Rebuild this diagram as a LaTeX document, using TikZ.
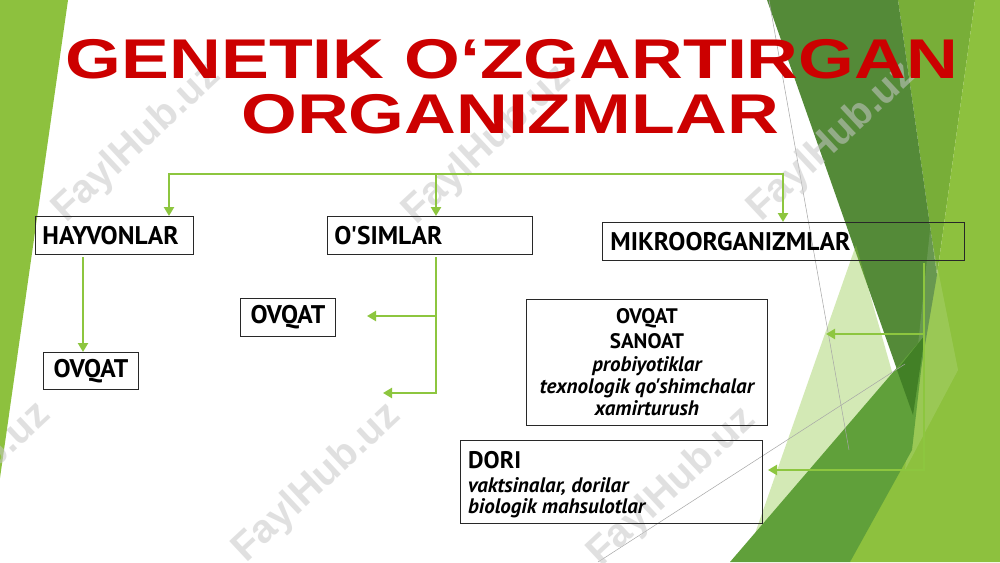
\documentclass[tikz,border=0pt]{standalone}
\usepackage{fontspec}
\newfontfamily\bodyfont{PT Sans}
\newfontfamily\titlefont{Liberation Sans}
\usetikzlibrary{arrows.meta,calc}
\definecolor{lime}{RGB}{141,193,62}
\definecolor{limeA}{RGB}{120,174,56}
\definecolor{darkg}{RGB}{84,138,56}
\definecolor{midg}{RGB}{96,160,58}
\definecolor{deepg}{RGB}{66,128,38}
\definecolor{arrowgreen}{RGB}{141,198,63}
\definecolor{titlered}{RGB}{204,0,0}
\definecolor{boxline}{RGB}{40,40,40}
\definecolor{wmgray}{RGB}{200,200,200}
\tikzset{
  box/.style={draw=boxline, line width=0.9pt, inner sep=0pt,
    font=\bodyfont\bfseries\fontsize{25.5}{30}\selectfont},
  upline/.style={anchor=base, inner sep=0pt,
    font=\bodyfont\bfseries\fontsize{21}{25}\selectfont},
  itline/.style={anchor=base, inner sep=0pt,
    font=\bodyfont\bfseries\itshape\fontsize{21}{25}\selectfont},
  gline/.style={draw=arrowgreen, line width=2.8pt, line join=miter},
  garrow/.style={gline, -{Triangle[length=9pt,width=10pt]}},
  wm/.style={text=wmgray, text opacity=0.55, rotate=43,
    font=\titlefont\bfseries\fontsize{40}{44}\selectfont},
  ttl/.style={text=titlered, anchor=base, inner sep=0pt},
  grayline/.style={draw=black!35, line width=0.5pt},
}
\begin{document}
\begin{tikzpicture}[x=1pt,y=-1pt]
\useasboundingbox (0,0) rectangle (1000,562);
\fill[white] (0,0) rectangle (1000,562);
% decoration left
\fill[lime] (0,0) -- (68,0) -- (0,478) -- cycle;
% decoration right
\fill[limeA] (898,0) -- (975,0) -- (937,275) -- cycle;
\fill[lime] (975,0) -- (1000,0) -- (1000,562) -- (850,562) -- (937,275) -- cycle;
\fill[darkg] (767,0) -- (898,0) -- (937,275) -- (913,415) -- cycle;
\fill[arrowgreen, opacity=0.38] (856,245) -- (900,400) -- (745,562) -- cycle;
\fill[white, opacity=0.12] (930,230) -- (958,370) -- (905,470) -- cycle;
\fill[midg] (730,562) -- (925,335) -- (912,450) -- (850,562) -- cycle;
\fill[deepg] (897,370) -- (925,335) -- (913,415) -- cycle;
\draw[grayline] (769,0) -- (849,450);
\draw[grayline] (598,562) -- (905,364);
% watermarks
\node[wm] (w1) at (137,143) {FaylHub.uz};
\node[wm] (w2) at (487,145) {FaylHub.uz};
\node[wm] (w3) at (832,142) {FaylHub.uz};
\node[wm] (w4) at (-33,482) {FaylHub.uz};
\node[wm] (w5) at (317,483) {FaylHub.uz};
\node[wm] (w6) at (672,487) {FaylHub.uz};
% title
\node[ttl] (t1) at (512,78) {\scalebox{1.28}[1]{\titlefont\bfseries\fontsize{56}{60}\selectfont GENETIK O‘ZGARTIRGAN}};
\node[ttl] (t2) at (510,133) {\scalebox{1.28}[1]{\titlefont\bfseries\fontsize{56}{60}\selectfont ORGANIZMLAR}};
% boxes
\node[box, anchor=north west, minimum width=158pt, minimum height=38pt, text width=144pt, align=flush left] (hay) at (35,216) {HAYVONLAR};
\node[box, anchor=north west, minimum width=205pt, minimum height=38pt, text width=191pt, align=flush left] (osim) at (327,216) {O'SIMLAR};
\node[box, anchor=north west, minimum width=362pt, minimum height=38pt, text width=346pt, align=flush left] (mikro) at (602,222) {MIKROORGANIZMLAR};
\node[box, anchor=north west, minimum width=95pt, minimum height=37pt] (ovq1) at (43,352) {OVQAT};
\node[box, anchor=north west, minimum width=95pt, minimum height=38pt] (ovq2) at (240,298) {OVQAT};
\node[box, anchor=north west, minimum width=241pt, minimum height=126pt] (sanoat) at (526,299) {};
\node[upline] (s1) at ($(sanoat.north)+(0,24)$) {OVQAT};
\node[upline] (s2) at ($(sanoat.north)+(0,49)$) {SANOAT};
\node[itline] (s3) at ($(sanoat.north)+(0,72)$) {probiyotiklar};
\node[itline] (s4) at ($(sanoat.north)+(0,94)$) {texnologik qo'shimchalar};
\node[itline] (s5) at ($(sanoat.north)+(0,116)$) {xamirturush};
\node[box, anchor=north west, minimum width=302pt, minimum height=83pt] (dori) at (460,440) {};
\node[upline, anchor=base west, font=\bodyfont\bfseries\fontsize{24}{28}\selectfont] (d1) at ($(dori.north west)+(8,28)$) {DORI};
\node[itline, anchor=base west] (d2) at ($(dori.north west)+(8,52)$) {vaktsinalar, dorilar};
\node[itline, anchor=base west] (d3) at ($(dori.north west)+(8,73)$) {biologik mahsulotlar};
% connectors
\coordinate (j1) at (169,174);
\coordinate (j2) at (436,174);
\coordinate (j3) at (783,174);
\draw[garrow] (j2) -| (hay.north -| j1);
\draw[garrow] (j2) -| (mikro.north -| j3);
\draw[garrow] (j2) -- (osim.north -| j2);
\coordinate (h0) at (83,257);
\draw[garrow] (h0) -- (ovq1.north -| h0);
\coordinate (o0) at (436,257);
\coordinate (o1) at (436,316);
\coordinate (a1) at (367,316);
\coordinate (a2) at (383,393);
\draw[garrow] (o0) |- (a2);
\draw[garrow] (o1) -- (a1);
\coordinate (m0) at (924,263);
\coordinate (m1) at (924,334);
\coordinate (b1) at (826,334);
\coordinate (e1) at (768,470);
\draw[garrow] (m0) |- (e1);
\draw[garrow] (m1) -- (b1);
\end{tikzpicture}
\end{document}
